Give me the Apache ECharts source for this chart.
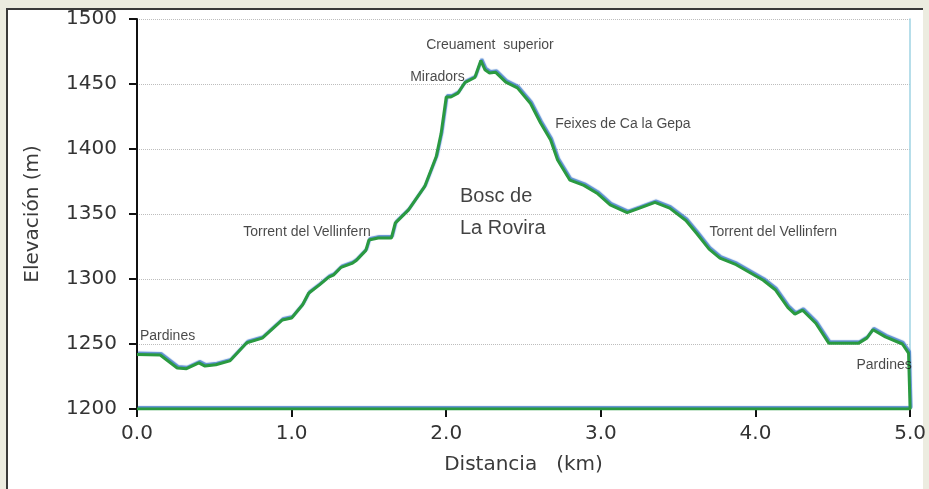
<!DOCTYPE html>
<html>
<head>
<meta charset="utf-8">
<script src="https://cdn.jsdelivr.net/npm/echarts@6/dist/echarts.min.js"></script>
<style>
html,body{margin:0;padding:0;width:929px;height:489px;overflow:hidden;background:#ecece0;}
#frame{position:absolute;left:6px;top:8px;width:915px;height:481px;background:#fff;border-left:2px solid #3a3a3a;border-top:2px solid #3a3a3a;}
#chart{position:absolute;left:0;top:0;width:929px;height:489px;}
</style>
</head>
<body>
<div id="frame"></div>
<div id="chart"></div>
<script>
// Profile distance (km) and elevation (m)
const distance = [0.0,0.15,0.26,0.32,0.40,0.44,0.51,0.60,0.71,0.81,0.94,1.00,1.07,1.11,1.18,1.24,1.27,1.32,1.39,1.42,1.48,1.50,1.56,1.645,1.67,1.755,1.86,1.935,1.967,2.00,2.03,2.076,2.12,2.185,2.224,2.25,2.28,2.32,2.385,2.46,2.545,2.61,2.675,2.72,2.80,2.89,2.975,3.06,3.17,3.25,3.35,3.445,3.55,3.62,3.70,3.77,3.875,4.05,4.13,4.21,4.255,4.305,4.39,4.475,4.665,4.72,4.76,4.84,4.95,4.99,5.0,0.0];
const elevation = [1242,1241.5,1231.5,1231,1235.5,1233,1234,1237,1251,1254.5,1268.5,1270,1280,1289,1295.5,1301.5,1303,1309,1312,1314.5,1322,1330,1331.5,1331.5,1343,1353,1371,1394,1412,1440,1440,1443,1451,1455,1468,1461,1458.5,1459,1451.5,1447,1435,1420,1407,1391.5,1376,1372,1366,1357,1351,1354.5,1359,1354.5,1345,1335,1323,1316,1311,1299,1291.5,1278,1273,1276,1266,1250.5,1250.5,1254.5,1261,1255.5,1250,1243,1200,1200];

const xTickLabels = ['0.0','1.0','2.0','3.0','4.0','5.0'];
const yTickLabels = ['1200','1250','1300','1350','1400','1450','1500'];

// Small annotations (anchor: left edge, vertical middle)
const noteText = ['Creuament  superior','Miradors','Feixes de Ca la Gepa','Torrent del Vellinfern','Torrent del Vellinfern','Pardines','Pardines'];
const noteX = [1.870,1.767,2.705,0.687,3.702,0.019,4.653];
const noteY = [1480,1455.4,1419.2,1336.2,1336.2,1256.2,1233.8];

// Large annotations
const bigText = ['Bosc de','La Rovira'];
const bigX = [2.089,2.089];
const bigY = [1363.8,1339.2];

const chart = echarts.init(document.getElementById('chart'), null, {renderer:'canvas'});

function notes(texts, xs, ys){
  return texts.map((t,i)=>({value:[xs[i],ys[i]], name:t}));
}

const option = {
  animation:false,
  backgroundColor:'transparent',
  grid:{left:137,right:14,top:19,bottom:80},
  xAxis:{
    type:'value',min:0,max:5,interval:1,
    name:'Distancia   (km)',nameLocation:'middle',nameGap:46,
    nameTextStyle:{fontFamily:'DejaVu Sans',fontSize:20,color:'#3a3a3a'},
    axisLine:{lineStyle:{color:'#111',width:2}},
    axisTick:{length:8,lineStyle:{color:'#111',width:2}},
    axisLabel:{margin:15,fontFamily:'DejaVu Sans',fontSize:20,color:'#333',
      formatter:(v)=>xTickLabels[Math.round(v)]},
    splitLine:{show:false}
  },
  yAxis:[{
    type:'value',min:1200,max:1500,interval:50,
    name:'Elevación (m)',nameLocation:'middle',nameGap:94,
    nameTextStyle:{fontFamily:'DejaVu Sans',fontSize:20,color:'#3a3a3a'},
    axisLine:{show:true,lineStyle:{color:'#111',width:2}},
    axisTick:{show:true,length:8,lineStyle:{color:'#111',width:2}},
    axisLabel:{margin:20,fontFamily:'DejaVu Sans',fontSize:20,color:'#333',
      formatter:(v)=>yTickLabels[Math.round((v-1200)/50)]},
    splitLine:{show:true,lineStyle:{color:'#bdbdbd',type:'dotted',width:1}}
  },{
    type:'value',min:1200,max:1500,interval:50,position:'right',
    axisLine:{show:true,lineStyle:{color:'#9fd3e3',width:1.5}},
    axisTick:{show:false},axisLabel:{show:false},splitLine:{show:false}
  }],
  series:[{
    type:'line',
    data:distance.map((d,i)=>[d,elevation[i]]),
    showSymbol:false,symbol:'none',
    lineStyle:{color:'#2a9a40',width:3,
      shadowColor:'rgba(60,120,200,0.85)',shadowBlur:1,shadowOffsetX:1,shadowOffsetY:-1.5},
    z:3
  },{
    type:'scatter',
    data:notes(noteText,noteX,noteY),
    symbolSize:0,
    label:{show:true,position:'right',distance:0,formatter:'{b}',
      fontFamily:'Liberation Sans',fontSize:14,color:'#1a1a1a',align:'left',verticalAlign:'middle'},
    z:5
  },{
    type:'scatter',
    data:notes(bigText,bigX,bigY),
    symbolSize:0,
    label:{show:true,position:'right',distance:0,formatter:'{b}',
      fontFamily:'Liberation Sans',fontSize:20,color:'#111',align:'left',verticalAlign:'middle'},
    z:5
  }]
};
chart.setOption(option);
</script>
</body>
</html>
